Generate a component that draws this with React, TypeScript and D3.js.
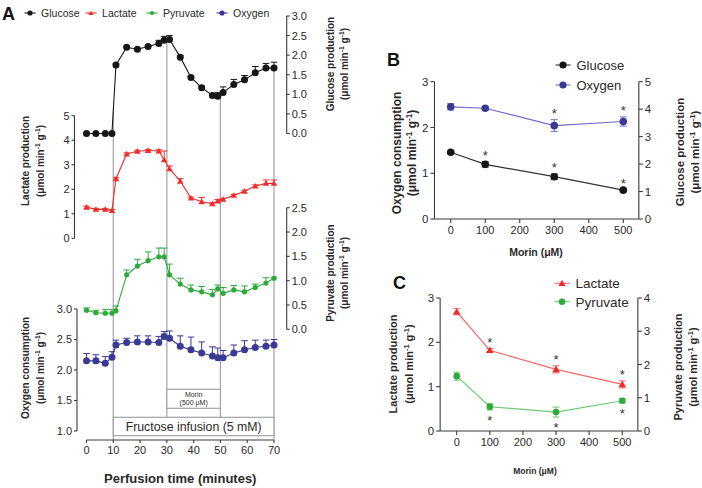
import React from 'react';
import * as d3 from 'd3';

// ---------- Panel A data ----------
const times = [0, 3.5, 7, 9.5, 11, 15, 19, 23, 27, 29, 31, 35, 39, 43, 47, 49, 51, 55, 59, 63, 67, 70];
const glucoseA = [0, 0, 0, 0, 1.75, 2.2, 2.15, 2.22, 2.3, 2.38, 2.4, 1.95, 1.43, 1.17, 0.97, 0.95, 1.05, 1.25, 1.37, 1.55, 1.67, 1.67];
const glucoseAErr = [0, 0, 0, 0, 0.03, 0.03, 0.03, 0.03, 0.08, 0.1, 0.1, 0.04, 0.04, 0.04, 0.04, 0.1, 0.14, 0.13, 0.11, 0.16, 0.12, 0.15];
const lactateA = [1.27, 1.18, 1.18, 1.13, 2.43, 3.44, 3.55, 3.58, 3.56, 3.2, 2.84, 2.33, 1.64, 1.49, 1.41, 1.52, 1.59, 1.75, 1.92, 2.13, 2.24, 2.24];
const lactateAErr = [0.04, 0.04, 0.04, 0.04, 0.04, 0.04, 0.04, 0.04, 0.05, 0.36, 0.11, 0.1, 0.04, 0.18, 0.04, 0.06, 0.04, 0.04, 0.04, 0.05, 0.14, 0.14];
const pyruvateA = [0.39, 0.34, 0.33, 0.33, 0.38, 1.12, 1.3, 1.41, 1.49, 1.49, 1.12, 0.93, 0.81, 0.77, 0.71, 0.83, 0.74, 0.81, 0.77, 0.86, 0.95, 1.05];
const pyruvateAErr = [0.05, 0.05, 0.08, 0.08, 0.1, 0.1, 0.14, 0.18, 0.18, 0.18, 0.22, 0.12, 0.1, 0.11, 0.11, 0.08, 0.12, 0.09, 0.12, 0.07, 0.11, 0.02];
const oxygenA = [2.15, 2.15, 2.11, 2.21, 2.41, 2.45, 2.46, 2.46, 2.45, 2.55, 2.52, 2.39, 2.33, 2.28, 2.23, 2.2, 2.2, 2.28, 2.33, 2.37, 2.39, 2.41];
const oxygenAErr = [0.12, 0.1, 0.11, 0.09, 0.08, 0.07, 0.1, 0.1, 0.1, 0.08, 0.12, 0.17, 0.21, 0.18, 0.15, 0.16, 0.12, 0.13, 0.15, 0.12, 0.1, 0.09];
const refTimes = [10, 30, 50, 70];
const xTicksA = [0, 10, 20, 30, 40, 50, 60, 70];
const lactateTicksA = [0, 1, 2, 3, 4, 5];
const glucoseTicksA = [0, 0.5, 1, 1.5, 2, 2.5, 3];
const pyruvateTicksA = [0, 0.5, 1, 1.5, 2, 2.5];
const oxygenTicksA = [1, 1.5, 2, 2.5, 3];
const legendA = ['Glucose', 'Lactate', 'Pyruvate', 'Oxygen'];

// ---------- Panel B / C data ----------
const doses = [0, 100, 300, 500];
const doseTicks = [0, 100, 200, 300, 400, 500];
const glucoseB = [2.43, 1.99, 1.54, 1.05];
const glucoseBErr = [0.04, 0.1, 0.1, 0.03];
const glucoseBStar = [false, true, true, true];
const oxygenB = [2.45, 2.42, 2.04, 2.13];
const oxygenBErr = [0.07, 0.04, 0.13, 0.1];
const oxygenBStar = [false, false, true, true];
const leftTicksB = [0, 1, 2, 3];
const rightTicksB = [0, 1, 2, 3, 4, 5];
const lactateC = [2.69, 1.82, 1.39, 1.05];
const lactateCErr = [0.07, 0.04, 0.08, 0.08];
const lactateCStar = [false, true, true, true];
const pyruvateC = [1.65, 0.73, 0.57, 0.91];
const pyruvateCErr = [0.12, 0.1, 0.15, 0.07];
const pyruvateCStar = [false, true, true, true];
const leftTicksC = [0, 1, 2, 3];
const rightTicksC = [0, 1, 2, 3, 4];

// ---------- styles ----------
const FONT = "'Liberation Sans', Arial, Helvetica, sans-serif";
const C_BLACK = '#161616';
const C_RED = '#ee2c2c';
const C_RED_L = '#f36a6a';
const C_GREEN = '#2eaa3c';
const C_GREEN_L = '#70c870';
const C_NAVY = '#3a3a94';
const C_NAVY_L = '#6e6ec6';
const C_GRAY = '#a3a3a3';
const C_AXIS = '#3a3a3a';
const C_TEXT = '#2a2a2a';

// ---------- scales ----------
const xA = d3.scaleLinear().domain([0, 70]).range([86.5, 274]);
const yGlu = d3.scaleLinear().domain([0, 3]).range([133.5, 16]);
const yLac = d3.scaleLinear().domain([0, 5]).range([238.3, 115.7]);
const yPyr = d3.scaleLinear().domain([0, 2.5]).range([329.3, 207.7]);
const yOxy = d3.scaleLinear().domain([1, 3]).range([431, 309]);

const xB = d3.scaleLinear().domain([0, 500]).range([450.7, 623.3]);
const yBL = d3.scaleLinear().domain([0, 3]).range([219, 81.7]);
const yBR = d3.scaleLinear().domain([0, 5]).range([219, 81.7]);

const xC = d3.scaleLinear().domain([0, 500]).range([456.7, 622.3]);
const yCL = d3.scaleLinear().domain([0, 3]).range([431, 298]);
const yCR = d3.scaleLinear().domain([0, 4]).range([431, 298]);

type MType = 'circle' | 'triangle' | 'dot';

function Marker({ type, x, y, color, s }: { type: MType; x: number; y: number; color: string; s: number }) {
  if (type === 'triangle') {
    const p = d3.symbol().type(d3.symbolTriangle).size(s * s * 1.9)();
    return <path d={p || ''} transform={`translate(${x},${y + 0.6})`} fill={color} />;
  }
  return <circle cx={x} cy={y} r={s} fill={color} />;
}

function Units({ size }: { size: number }) {
  const sh = size * 0.38;
  const ss = size * 0.68;
  return (
    <>
      {'(\u03bcmol min'}
      <tspan dy={-sh} fontSize={ss}>-1</tspan>
      <tspan dy={sh}>{' g'}</tspan>
      <tspan dy={-sh} fontSize={ss}>-1</tspan>
      <tspan dy={sh}>)</tspan>
    </>
  );
}

function VTitle({ x1, x2, cy, size, text }: { x1: number; x2: number; cy: number; size: number; text: string }) {
  return (
    <g fontWeight="bold" fontSize={size} fill={C_TEXT} textAnchor="middle">
      <text transform={`translate(${x1 + size * 0.35},${cy}) rotate(-90)`}>{text}</text>
      <text transform={`translate(${x2 + size * 0.35},${cy}) rotate(-90)`}>
        <Units size={size} />
      </text>
    </g>
  );
}

function VAxis({ x, scale, ticks, fmt, side, size, len = 4 }: any) {
  const [r0, r1] = scale.range();
  const dir = side === 'left' ? -1 : 1;
  return (
    <g>
      <line x1={x} x2={x} y1={r0} y2={r1} stroke={C_AXIS} strokeWidth={1.1} />
      {ticks.map((t: number) => (
        <g key={t}>
          <line x1={x} x2={x + dir * len} y1={scale(t)} y2={scale(t)} stroke={C_AXIS} strokeWidth={1.1} />
          <text
            x={x + dir * (len + 2)}
            y={scale(t) + size * 0.36}
            fontSize={size}
            fill={C_TEXT}
            textAnchor={side === 'left' ? 'end' : 'start'}
          >
            {fmt(t)}
          </text>
        </g>
      ))}
    </g>
  );
}

function HAxis({ y, scale, ticks, x0, x1, size, len = 4, fmt }: any) {
  return (
    <g>
      <line x1={x0} x2={x1} y1={y} y2={y} stroke={C_AXIS} strokeWidth={1.1} />
      {ticks.map((t: number) => (
        <g key={t}>
          <line x1={scale(t)} x2={scale(t)} y1={y} y2={y + len} stroke={C_AXIS} strokeWidth={1.1} />
          <text x={scale(t)} y={y + len + 3 + size * 0.72} fontSize={size} fill={C_TEXT} textAnchor="middle">
            {fmt ? fmt(t) : t}
          </text>
        </g>
      ))}
    </g>
  );
}

function SeriesA({ values, errs, y, color, type, s }: any) {
  const line = d3
    .line<number>()
    .x((_d, i) => xA(times[i]))
    .y((d) => y(d));
  return (
    <g>
      <path d={line(values) || ''} fill="none" stroke={color} strokeWidth={1.1} />
      {values.map((v: number, i: number) =>
        errs[i] > 0 ? (
          <g key={'e' + i} stroke={color} strokeWidth={1}>
            <line x1={xA(times[i])} x2={xA(times[i])} y1={y(v)} y2={y(v + errs[i])} />
            <line x1={xA(times[i]) - 3.3} x2={xA(times[i]) + 3.3} y1={y(v + errs[i])} y2={y(v + errs[i])} />
          </g>
        ) : null
      )}
      {values.map((v: number, i: number) => (
        <Marker key={'m' + i} type={type} x={xA(times[i])} y={y(v)} color={color} s={s} />
      ))}
    </g>
  );
}

function SeriesDose({ values, errs, stars, x, y, color, lineColor, type, s, starBelow }: any) {
  const line = d3
    .line<number>()
    .x((_d, i) => x(doses[i]))
    .y((d) => y(d));
  return (
    <g>
      <path d={line(values) || ''} fill="none" stroke={lineColor} strokeWidth={1.2} />
      {values.map((v: number, i: number) => (
        <g key={'e' + i} stroke={lineColor} strokeWidth={1}>
          <line x1={x(doses[i])} x2={x(doses[i])} y1={y(v - errs[i])} y2={y(v + errs[i])} />
          <line x1={x(doses[i]) - 3.5} x2={x(doses[i]) + 3.5} y1={y(v + errs[i])} y2={y(v + errs[i])} />
          <line x1={x(doses[i]) - 3.5} x2={x(doses[i]) + 3.5} y1={y(v - errs[i])} y2={y(v - errs[i])} />
        </g>
      ))}
      {values.map((v: number, i: number) => (
        <Marker key={'m' + i} type={type} x={x(doses[i])} y={y(v)} color={color} s={s} />
      ))}
      {values.map((v: number, i: number) =>
        stars[i] ? (
          <text
            key={'s' + i}
            x={x(doses[i])}
            y={starBelow ? y(v - errs[i]) + 6 + 9 : y(v + errs[i]) - 8 + 6.5}
            fontSize={13}
            fill="#333"
            textAnchor="middle"
          >
            *
          </text>
        ) : null
      )}
    </g>
  );
}

function LegendItem({ x, y, label, color, lineColor, type, s, size, half }: any) {
  return (
    <g>
      <line x1={x - half} x2={x + half} y1={y} y2={y} stroke={lineColor} strokeWidth={1.1} />
      <Marker type={type} x={x} y={y} color={color} s={s} />
      <text x={x + half + 4 + size * 0.15} y={y + size * 0.36} fontSize={size} fill={C_TEXT}>
        {label}
      </text>
    </g>
  );
}

export default function App() {
  const f1 = d3.format('.1f');
  const f0 = d3.format('d');
  const gluInterp = (t: number) => {
    const i = d3.bisectLeft(times, t);
    if (times[i] === t || i === 0) return glucoseA[i];
    const t0 = times[i - 1];
    const t1 = times[i];
    return glucoseA[i - 1] + ((glucoseA[i] - glucoseA[i - 1]) * (t - t0)) / (t1 - t0);
  };
  const legendColors = [C_BLACK, C_RED, C_GREEN, C_NAVY];
  const legendTypes: MType[] = ['circle', 'triangle', 'dot', 'circle'];
  const legendX = [30, 91, 152, 222];
  const boxFruTop = 417.3;
  const boxFruBot = 435.7;
  const boxMorTop = 389.3;
  const boxMorBot = 408.3;

  return (
    <svg
      width={702}
      height={488}
      style={{ position: 'absolute', left: 0, top: 0, background: '#fff' }}
      fontFamily={FONT}
    >
      <rect x={0} y={0} width={702} height={488} fill="#fff" />

      {/* ================= Panel A ================= */}
      <text x={2} y={20} fontSize={18} fontWeight="bold" fill="#111">A</text>
      {legendA.map((l, i) => (
        <LegendItem
          key={l}
          x={legendX[i]}
          y={13}
          label={l}
          color={legendColors[i]}
          lineColor={legendColors[i]}
          type={legendTypes[i]}
          s={i === 1 ? 2.4 : i === 2 ? 2 : 2.6}
          size={10.5}
          half={5.5}
        />
      ))}

      {/* reference vertical lines */}
      {refTimes.map((t) => (
        <line
          key={t}
          x1={xA(t)}
          x2={xA(t)}
          y1={yGlu(gluInterp(t))}
          y2={t === 30 || t === 50 ? boxFruTop : 440}
          stroke={C_GRAY}
          strokeWidth={1.2}
        />
      ))}

      {/* boxes */}
      <rect x={xA(10)} y={boxFruTop} width={xA(70) - xA(10)} height={boxFruBot - boxFruTop} fill="#fff" stroke={C_GRAY} strokeWidth={1.2} />
      <text x={(xA(10) + xA(70)) / 2} y={(boxFruTop + boxFruBot) / 2 + 4.4} fontSize={12.3} fill={C_TEXT} textAnchor="middle">
        Fructose infusion (5 mM)
      </text>
      <rect x={xA(30)} y={boxMorTop} width={xA(50) - xA(30)} height={boxMorBot - boxMorTop} fill="#fff" stroke={C_GRAY} strokeWidth={1.2} />
      <text x={(xA(30) + xA(50)) / 2} y={boxMorTop + 7.5} fontSize={7} fill={C_TEXT} textAnchor="middle">Morin</text>
      <text x={(xA(30) + xA(50)) / 2} y={boxMorTop + 16} fontSize={7} fill={C_TEXT} textAnchor="middle">(500 {'\u03bc'}M)</text>

      {/* axes */}
      <HAxis y={440} scale={xA} ticks={xTicksA} x0={xA(0)} x1={xA(70)} size={11} len={3} />
      <text x={(xA(0) + xA(70)) / 2} y={483} fontSize={13} fontWeight="bold" fill={C_TEXT} textAnchor="middle">
        Perfusion time (minutes)
      </text>
      <VAxis x={74.5} scale={yLac} ticks={lactateTicksA} fmt={f0} side="left" size={11} len={3} />
      <VAxis x={77} scale={yOxy} ticks={oxygenTicksA} fmt={f1} side="left" size={11} len={3} />
      <VAxis x={286.7} scale={yGlu} ticks={glucoseTicksA} fmt={f1} side="right" size={11} len={3} />
      <VAxis x={286.7} scale={yPyr} ticks={pyruvateTicksA} fmt={f1} side="right" size={11} len={3} />

      <VTitle x1={25} x2={40} cy={161} size={10} text="Lactate production" />
      <VTitle x1={25} x2={40} cy={368} size={10} text="Oxygen consumption" />
      <VTitle x1={330.5} x2={344} cy={64} size={10} text="Glucose production" />
      <VTitle x1={330.5} x2={344} cy={273} size={10} text="Pyruvate production" />

      {/* series */}
      <SeriesA values={glucoseA} errs={glucoseAErr} y={yGlu} color={C_BLACK} type="circle" s={3.5} />
      <SeriesA values={lactateA} errs={lactateAErr} y={yLac} color={C_RED} type="triangle" s={3.1} />
      <SeriesA values={pyruvateA} errs={pyruvateAErr} y={yPyr} color={C_GREEN} type="dot" s={2.6} />
      <SeriesA values={oxygenA} errs={oxygenAErr} y={yOxy} color={C_NAVY} type="circle" s={3.5} />

      {/* ================= Panel B ================= */}
      <text x={387} y={66} fontSize={18} fontWeight="bold" fill="#111">B</text>
      <HAxis y={219} scale={xB} ticks={doseTicks} x0={xB(-47)} x1={xB(545)} size={11} len={4} />
      <VAxis x={xB(-47)} scale={yBL} ticks={leftTicksB} fmt={f0} side="left" size={11.5} len={4} />
      <VAxis x={xB(545)} scale={yBR} ticks={rightTicksB} fmt={f0} side="right" size={11.5} len={4} />
      <text x={536} y={256} fontSize={10.5} fontWeight="bold" fill={C_TEXT} textAnchor="middle">Morin ({'\u03bc'}M)</text>
      <VTitle x1={397} x2={412} cy={153} size={12} text="Oxygen consumption" />
      <VTitle x1={680} x2={695} cy={152} size={11.5} text="Glucose production" />
      <SeriesDose values={oxygenB} errs={oxygenBErr} stars={oxygenBStar} x={xB} y={yBL} color={C_NAVY} lineColor={C_NAVY_L} type="circle" s={3.8} />
      <SeriesDose values={glucoseB} errs={glucoseBErr} stars={glucoseBStar} x={xB} y={yBR} color={C_BLACK} lineColor="#333" type="circle" s={3.8} />
      <LegendItem x={563} y={65} label="Glucose" color={C_BLACK} lineColor="#333" type="circle" s={3.6} size={13} half={7.5} />
      <LegendItem x={563} y={85} label="Oxygen" color={C_NAVY} lineColor={C_NAVY_L} type="circle" s={3.6} size={13} half={7.5} />

      {/* ================= Panel C ================= */}
      <text x={393} y={288.5} fontSize={18} fontWeight="bold" fill="#111">C</text>
      <HAxis y={431} scale={xC} ticks={doseTicks} x0={xC(-50)} x1={xC(547)} size={11} len={4} />
      <VAxis x={xC(-50)} scale={yCL} ticks={leftTicksC} fmt={f0} side="left" size={11.5} len={4} />
      <VAxis x={xC(547)} scale={yCR} ticks={rightTicksC} fmt={f0} side="right" size={11.5} len={4} />
      <text x={535} y={474} fontSize={8.5} fontWeight="bold" fill={C_TEXT} textAnchor="middle">Morin ({'\u03bc'}M)</text>
      <VTitle x1={393} x2={409} cy={364} size={11} text="Lactate production" />
      <VTitle x1={678} x2={693} cy={367} size={11} text="Pyruvate production" />
      <SeriesDose values={lactateC} errs={lactateCErr} stars={lactateCStar} x={xC} y={yCL} color={C_RED} lineColor={C_RED_L} type="triangle" s={3.6} />
      <SeriesDose values={pyruvateC} errs={pyruvateCErr} stars={pyruvateCStar} x={xC} y={yCR} color={C_GREEN} lineColor={C_GREEN_L} type="dot" s={3.3} starBelow />
      <LegendItem x={562} y={283.3} label="Lactate" color={C_RED} lineColor={C_RED_L} type="triangle" s={3.4} size={13.5} half={7.5} />
      <LegendItem x={562} y={301.7} label="Pyruvate" color={C_GREEN} lineColor={C_GREEN_L} type="dot" s={3.2} size={13.5} half={7.5} />
    </svg>
  );
}
